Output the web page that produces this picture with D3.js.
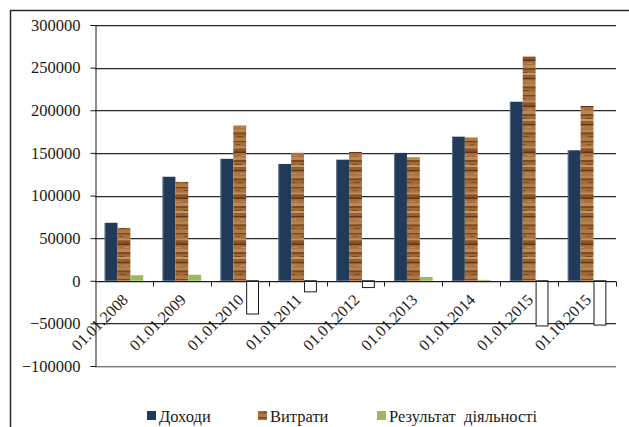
<!DOCTYPE html>
<html>
<head>
<meta charset="utf-8">
<script src="https://cdn.jsdelivr.net/npm/d3@7"></script>
<style>
  html, body { margin: 0; padding: 0; background: #fff; }
  svg { display: block; }
  svg text { font-family: "Liberation Serif", "Times New Roman", serif !important; fill: #1a1a1a; }
</style>
</head>
<body>
<svg id="chart" width="629" height="427"></svg>
<script>
const categories = ["01.01.2008","01.01.2009","01.01.2010","01.01.2011","01.01.2012","01.01.2013","01.01.2014","01.01.2015","01.10.2015"];
const incomes  = [68000, 122000, 143000, 137000, 142000, 150000, 169000, 210000, 153000];
const expenses = [62000, 116000, 182000, 150000, 151000, 145000, 168000, 263000, 205000];
const results  = [6500, 7000, -39000, -13000, -8000, 4500, 1000, -53000, -52000];
const yTicks   = [-100000, -50000, 0, 50000, 100000, 150000, 200000, 250000, 300000];
const seriesNames = ["Доходи", "Витрати", "Результат  діяльності"];

const FONT = "'Liberation Serif', 'Times New Roman', serif";
const svg = d3.select("#chart");
const plot = { left: 95, right: 616, top: 25, bottom: 366 };

// defs: wood texture pattern
const defs = svg.append("defs");
const wood = defs.append("pattern").attr("id", "wood")
  .attr("patternUnits", "userSpaceOnUse").attr("width", 13).attr("height", 46);
wood.append("rect").attr("width", 13).attr("height", 46).attr("fill", "#9a6535");
const stripes = [
  [0, 3, "#b17a45"], [3, 1.5, "#7a4522"], [4.5, 4, "#a7713f"], [8.5, 2, "#c0925a"],
  [10.5, 3, "#8b5529"], [13.5, 1.5, "#5e3118"], [15, 4, "#a86f3c"], [19, 3, "#b98a52"],
  [22, 2, "#7d4a25"], [24, 3, "#a06a38"], [27, 2, "#c3975e"], [29, 3, "#94602f"],
  [32, 1.5, "#5f3319"], [33.5, 4, "#ab7641"], [37.5, 3, "#b6864f"], [40.5, 2, "#7c4723"], [42.5, 3.5, "#9f6b39"]
];
stripes.forEach(s => wood.append("rect").attr("x", 0).attr("y", s[0]).attr("width", 13).attr("height", s[1]).attr("fill", s[2]));
const spots = [[2, 6, 4, 1, "#6e3d1d"], [7, 17, 5, 1, "#c9a068"], [1, 26, 6, 1, "#6a3a1b"], [6, 35, 5, 1, "#c49a60"], [3, 44, 6, 1, "#6d3c1c"]];
spots.forEach(s => wood.append("rect").attr("x", s[0]).attr("y", s[1]).attr("width", s[2]).attr("height", s[3]).attr("fill", s[4]).attr("opacity", 0.7));

// outer frame
svg.append("path").attr("d", "M10.5,427 L10.5,10.5 L629,10.5")
  .attr("fill", "none").attr("stroke", "#2a2a2a").attr("stroke-width", 1.5);

const x = d3.scaleBand().domain(categories).range([plot.left, plot.right]).padding(0);
const y = d3.scaleLinear().domain([-100000, 300000]).range([plot.bottom, plot.top]);

// gridlines
const grid = svg.append("g");
yTicks.forEach(t => {
  const yy = Math.round(y(t)) + 0.5;
  grid.append("line").attr("x1", plot.left).attr("x2", plot.right).attr("y1", yy + 1).attr("y2", yy + 1)
    .attr("stroke", "#c8c8c8").attr("stroke-width", 1);
  grid.append("line").attr("x1", plot.left).attr("x2", plot.right).attr("y1", yy).attr("y2", yy)
    .attr("stroke", t === -100000 ? "#777" : "#2b2b2b").attr("stroke-width", 1);
});

// bars
const bw = x.bandwidth() / 4.5;
const off = bw * 0.75;
const bars = svg.append("g");
categories.forEach((c, i) => {
  const x0 = x(c) + off;
  bars.append("rect").attr("x", x0).attr("width", bw)
    .attr("y", y(incomes[i])).attr("height", y(0) - y(incomes[i]))
    .attr("fill", "#213a5a");
  bars.append("rect").attr("x", x0).attr("width", 1)
    .attr("y", y(incomes[i])).attr("height", y(0) - y(incomes[i]))
    .attr("fill", "#8797ab").attr("opacity", 0.6);
  bars.append("rect").attr("x", x0 + bw).attr("width", bw)
    .attr("y", y(expenses[i])).attr("height", y(0) - y(expenses[i]))
    .attr("fill", "url(#wood)");
  const r = results[i];
  if (r >= 0) {
    bars.append("rect").attr("x", x0 + 2 * bw).attr("width", bw)
      .attr("y", y(r)).attr("height", y(0) - y(r))
      .attr("fill", "#9bbb59");
  } else {
    bars.append("rect").attr("x", x0 + 2 * bw + 0.5).attr("width", bw - 1)
      .attr("y", y(0)).attr("height", y(r) - y(0))
      .attr("fill", "#fff").attr("stroke", "#1a1a1a").attr("stroke-width", 1);
  }
});

// y axis
const yAxis = d3.axisLeft(y).tickValues(yTicks).tickSize(5).tickPadding(10).tickFormat(d3.format("d"));
const gy = svg.append("g").attr("transform", `translate(${plot.left + 0.5},0)`).call(yAxis)
  .attr("font-family", FONT).attr("font-size", 16.5);
gy.select(".domain").attr("stroke", "#1a1a1a");
gy.selectAll(".tick line").attr("stroke", "#1a1a1a");
gy.selectAll("text").attr("fill", "#1a1a1a").style("font-family", FONT).style("font-size", "16.5px");

// x axis at zero
const y0 = Math.round(y(0)) + 0.5;
const xa = svg.append("g").attr("font-family", FONT);
xa.append("line").attr("x1", plot.left).attr("x2", plot.right).attr("y1", y0).attr("y2", y0)
  .attr("stroke", "#1a1a1a");
categories.concat([null]).forEach((c, i) => {
  const xx = Math.round(c ? x(c) : plot.right) + 0.5;
  if (i === 0) return;
  xa.append("line").attr("x1", xx).attr("x2", xx).attr("y1", y0).attr("y2", y0 + 5).attr("stroke", "#1a1a1a");
});
categories.forEach(c => {
  const cx = x(c) + x.bandwidth() / 2;
  xa.append("text").attr("text-anchor", "end")
    .attr("transform", `translate(${cx + 5},${y(0) + 20}) rotate(-45)`)
    .style("font-family", FONT).style("font-size", "16px").text(c);
});

// legend
const legendColors = ["#213a5a", "url(#wood)", "#9bbb59"];
const legendX = [147, 258, 377];
const lg = svg.append("g").attr("font-family", FONT);
seriesNames.forEach((n, i) => {
  lg.append("rect").attr("x", legendX[i]).attr("y", 411).attr("width", 9).attr("height", 9).attr("fill", legendColors[i]);
  lg.append("text").attr("x", legendX[i] + 12).attr("y", 422)
    .style("font-family", FONT).style("font-size", "16.5px")
    .style("white-space", "pre").attr("xml:space", "preserve").text(n);
});
</script>
</body>
</html>
